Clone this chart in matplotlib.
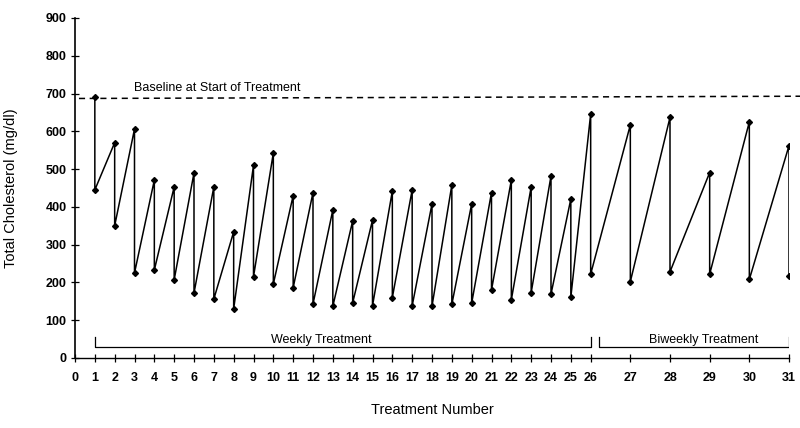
import matplotlib
matplotlib.use("Agg")
import matplotlib.pyplot as plt

plt.rcParams['font.family'] = ['Liberation Sans', 'DejaVu Sans']

# Data
treatments = list(range(1, 32))
pre_values = [690, 570, 606, 471, 453, 490, 453, 334, 510, 543, 430, 438, 392, 363, 365,
              442, 445, 408, 458, 408, 438, 471, 453, 482, 421, 646, 617, 637, 491, 625, 562]
post_values = [445, 350, 225, 233, 207, 172, 156, 130, 215, 196, 186, 143, 137, 146, 138,
               160, 138, 137, 142, 145, 180, 154, 173, 169, 161, 222, 202, 228, 222, 208, 217]
baseline = 690
tick_labels = [str(i) for i in range(0, 32)]
y_ticks = list(range(0, 1000, 100))


def pos(n):
    # weekly treatments one unit apart, biweekly two units apart
    return n if n <= 26 else 26 + 2 * (n - 26)


xs, ys = [], []
for n, a, b in zip(treatments, pre_values, post_values):
    xs += [pos(n), pos(n)]
    ys += [a, b]

fig = plt.figure(figsize=(8, 4.28), dpi=100)
ax = fig.add_axes([75 / 800, 1 - 358 / 428, (789 - 75) / 800, (358 - 18) / 428])

ax.plot(xs, ys, color='black', lw=1.1, marker='D', ms=3.0, mfc='black', mec='black')

# baseline
ax.plot([0.2, 37.0], [baseline - 3, baseline + 3], color='black', lw=1.1,
        ls=(0, (4, 3)), clip_on=False)
ax.text(3.0, baseline + 8, 'Baseline at Start of Treatment', fontsize=9,
        ha='left', va='bottom')

# brackets
yb, yt = 29, 55
ax.plot([pos(1), pos(1), pos(26), pos(26)], [yt, yb, yb, yt], color='black', lw=0.9)
ax.text(12.4, yb + 3, 'Weekly Treatment', fontsize=9, ha='center', va='bottom')
ax.plot([26.4, 26.4, pos(31), pos(31)], [yt, yb, yb, yt], color='black', lw=0.9)
ax.text(31.7, yb + 3, 'Biweekly Treatment', fontsize=9, ha='center', va='bottom')

ax.set_xlim(0, 36)
ax.set_ylim(0, 900)
ax.set_yticks(y_ticks)
ax.set_yticklabels([str(v) for v in y_ticks], fontsize=9, fontweight='bold')
ax.set_xticks([pos(i) for i in range(0, 32)])
ax.set_xticklabels(tick_labels, fontsize=9, fontweight='bold')
ax.tick_params(axis='both', direction='inout', length=6, width=0.9)
ax.tick_params(axis='x', pad=7)
ax.tick_params(axis='y', pad=3)

for s in ['top', 'right']:
    ax.spines[s].set_visible(False)
ax.spines['left'].set_linewidth(1.2)
ax.spines['bottom'].set_linewidth(1.0)

ax.set_ylabel('Total Cholesterol (mg/dl)', fontsize=10.5, labelpad=20)
ax.set_xlabel('Treatment Number', fontsize=10.5, labelpad=14)

fig.savefig('out.png', dpi=100)
